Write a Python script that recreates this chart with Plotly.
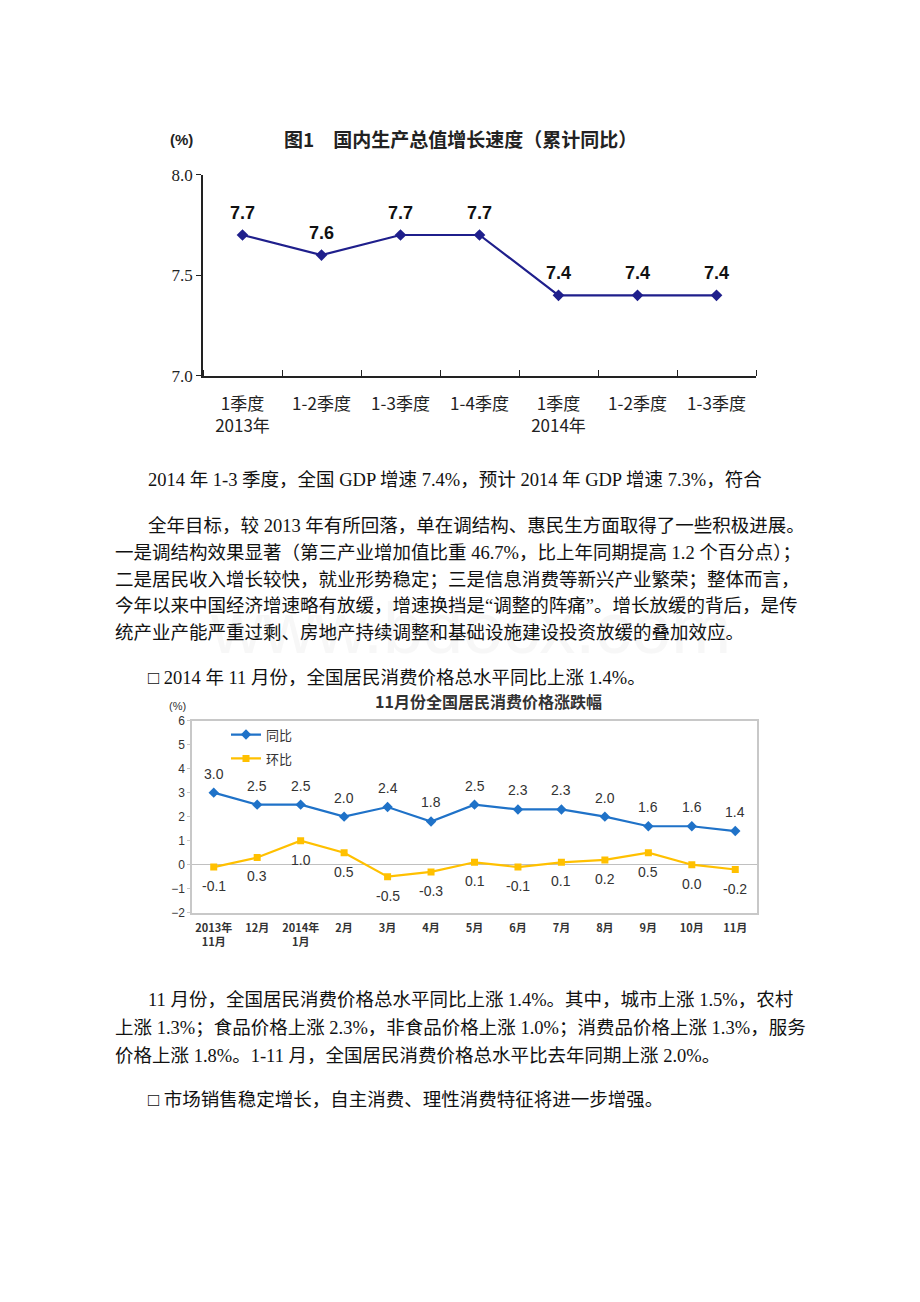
import plotly.graph_objects as go

W, H = 920, 1302
OFF = 8  # default page margin of the html body

# ---------------- data ----------------
gdp_labels = ["1季度<br>2013年", "1-2季度", "1-3季度", "1-4季度", "1季度<br>2014年", "1-2季度", "1-3季度"]
gdp_values = [7.7, 7.6, 7.7, 7.7, 7.4, 7.4, 7.4]
gdp_yticks = [7.0, 7.5, 8.0]

cpi_labels = ["2013年<br>11月", "12月", "2014年<br>1月", "2月", "3月", "4月", "5月",
              "6月", "7月", "8月", "9月", "10月", "11月"]
cpi_yoy = [3.0, 2.5, 2.5, 2.0, 2.4, 1.8, 2.5, 2.3, 2.3, 2.0, 1.6, 1.6, 1.4]
cpi_mom = [-0.1, 0.3, 1.0, 0.5, -0.5, -0.3, 0.1, -0.1, 0.1, 0.2, 0.5, 0.0, -0.2]
cpi_yticks = [-2, -1, 0, 1, 2, 3, 4, 5, 6]

text_lines = [
    ("2014 年 1-3 季度，全国 GDP 增速 7.4%，预计 2014 年 GDP 增速 7.3%，符合", 146, 478),
    ("全年目标，较 2013 年有所回落，单在调结构、惠民生方面取得了一些积极进展。", 146, 525),
    ("一是调结构效果显著（第三产业增加值比重 46.7%，比上年同期提高 1.2 个百分点）；", 113, 552),
    ("二是居民收入增长较快，就业形势稳定；三是信息消费等新兴产业繁荣；整体而言，", 113, 579),
    ("今年以来中国经济增速略有放缓，增速换挡是“调整的阵痛”。增长放缓的背后，是传", 113, 606),
    ("统产业产能严重过剩、房地产持续调整和基础设施建设投资放缓的叠加效应。", 113, 633),
    ("□ 2014 年 11 月份，全国居民消费价格总水平同比上涨 1.4%。", 146, 679),
    ("11 月份，全国居民消费价格总水平同比上涨 1.4%。其中，城市上涨 1.5%，农村", 146, 1006),
    ("上涨 1.3%；食品价格上涨 2.3%，非食品价格上涨 1.0%；消费品价格上涨 1.3%，服务", 113, 1034),
    ("价格上涨 1.8%。1-11 月，全国居民消费价格总水平比去年同期上涨 2.0%。", 113, 1062),
    ("□ 市场销售稳定增长，自主消费、理性消费特征将进一步增强。", 146, 1107),
]

CJK = "Noto Sans CJK SC"
SERIF_CJK = "Liberation Serif, Noto Sans CJK SC"
NAVY = "#1F1F8C"
BLUE = "#1F72C8"
YELLOW = "#FFC000"

def px_x(p):
    return (p - OFF) / W

def px_y(p):
    return 1 - (p - OFF) / H

# chart 2 plot area (pixels) and the paper position of its zero line
C2_TOP, C2_BOT = 722, 917
zero_frac = (0 - cpi_yticks[0]) / (cpi_yticks[-1] - cpi_yticks[0])
zero_pos = px_y(C2_BOT) + (px_y(C2_TOP) - px_y(C2_BOT)) * zero_frac

fig = go.Figure()

# ---------------- chart 1 ----------------
gx = list(range(len(gdp_values)))
fig.add_trace(go.Scatter(
    x=gx, y=gdp_values, mode="lines+markers", xaxis="x", yaxis="y",
    line=dict(color=NAVY, width=2.2),
    marker=dict(symbol="diamond", size=9, color=NAVY),
    showlegend=False, hoverinfo="skip"))

annotations = [
    dict(x=px_x(470), y=px_y(628), xref="paper", yref="paper",
         text="www.bdocx.com", showarrow=False, xanchor="center", yanchor="middle",
         font=dict(family="Arial, Liberation Sans", size=72, color="rgba(210,210,210,0.18)")),
]
for i, v in zip(gx, gdp_values):
    annotations.append(dict(x=i, y=v, xref="x", yref="y", text=f"{v:.1f}",
                            showarrow=False, yshift=22, xanchor="center", yanchor="middle",
                            font=dict(family="Arial, Liberation Sans", size=18,
                                      color="#111111", weight="bold")))

# ---------------- chart 2 ----------------
cx = list(range(len(cpi_yoy)))
fig.add_trace(go.Scatter(
    x=cx, y=cpi_yoy, mode="lines+markers", xaxis="x2", yaxis="y2", name="同比",
    legendgroup="a",
    line=dict(color=BLUE, width=2.2),
    marker=dict(symbol="diamond", size=8, color=BLUE), hoverinfo="skip"))
fig.add_trace(go.Scatter(
    x=cx, y=cpi_mom, mode="lines+markers", xaxis="x2", yaxis="y2", name="环比",
    legendgroup="b",
    line=dict(color=YELLOW, width=2.2),
    marker=dict(symbol="square", size=7, color=YELLOW), hoverinfo="skip"))

for i, v in zip(cx, cpi_yoy):
    annotations.append(dict(x=i, y=v, xref="x2", yref="y2", text=f"{v:.1f}",
                            showarrow=False, yshift=19, xanchor="center", yanchor="middle",
                            font=dict(family="Arial, Liberation Sans", size=14, color="#333333")))
for i, v in zip(cx, cpi_mom):
    annotations.append(dict(x=i, y=v, xref="x2", yref="y2", text=f"{v:.1f}",
                            showarrow=False, yshift=-19, xanchor="center", yanchor="middle",
                            font=dict(family="Arial, Liberation Sans", size=14, color="#333333")))

# ---------------- titles ----------------
annotations += [
    dict(x=px_x(181), y=px_y(132), xref="paper", yref="paper", text="(%)", showarrow=False,
         xanchor="center", yanchor="middle",
         font=dict(family="Arial, Liberation Sans", size=15, color="#222222", weight="bold")),
    dict(x=px_x(460), y=px_y(131), xref="paper", yref="paper",
         text="图1　国内生产总值增长速度（累计同比）", showarrow=False,
         xanchor="center", yanchor="middle",
         font=dict(family=CJK, size=19, color="#222222", weight="bold")),
    dict(x=px_x(177), y=px_y(707), xref="paper", yref="paper", text="(%)", showarrow=False,
         xanchor="center", yanchor="middle",
         font=dict(family="Arial, Liberation Sans", size=11, color="#333333")),
    dict(x=px_x(488), y=px_y(702), xref="paper", yref="paper",
         text="11月份全国居民消费价格涨跌幅", showarrow=False,
         xanchor="center", yanchor="middle",
         font=dict(family=CJK, size=16, color="#333333", weight="bold")),
]

for t, x0, y0 in text_lines:
    annotations.append(dict(x=px_x(x0), y=px_y(y0), xref="paper", yref="paper", text=t,
                            showarrow=False, xanchor="left", yanchor="middle",
                            font=dict(family=SERIF_CJK, size=18.5, color="#111111")))

fig.update_layout(
    width=W, height=H, margin=dict(l=0, r=0, t=0, b=0),
    paper_bgcolor="white", plot_bgcolor="white",
    annotations=annotations,
    xaxis=dict(domain=[px_x(203), px_x(756)], range=[-0.5, 6.5], anchor="y",
               showline=True, linecolor="#222222", linewidth=1.5, showgrid=False, zeroline=False,
               tickmode="array", tickvals=gx, ticktext=gdp_labels, ticks="",
               ticklabelstandoff=12,
               tickfont=dict(family=CJK, size=17, color="#222222"),
               minor=dict(tick0=0.5, dtick=1, ticks="inside", ticklen=6, tickcolor="#222222",
                          showgrid=False)),
    yaxis=dict(domain=[px_y(372), px_y(168)], range=[7.0, 8.0], anchor="x",
               showline=True, linecolor="#222222", linewidth=1.5, showgrid=False, zeroline=False,
               tickmode="array", tickvals=gdp_yticks, tickformat=".1f",
               ticks="outside", ticklen=5, tickcolor="#222222",
               tickfont=dict(family="Liberation Serif", size=17, color="#222222")),
    xaxis2=dict(domain=[px_x(192), px_x(757)], range=[-0.5, 12.5], anchor="y2",
                showline=True, mirror=True, linecolor="#C8C8C8", linewidth=1.5,
                showgrid=False, zeroline=False,
                tickmode="array", tickvals=cx, ticktext=cpi_labels, ticks="",
                ticklabelstandoff=4,
                tickfont=dict(family=CJK, size=11, color="#333333", weight="bold")),
    xaxis3=dict(domain=[px_x(192), px_x(757)], range=[-0.5, 12.5], overlaying="x2",
                anchor="free", position=zero_pos, side="bottom",
                showline=False, showgrid=False, zeroline=False, showticklabels=False,
                tickmode="array", tickvals=[x + 0.5 for x in cx[:-1]], ticks="inside",
                ticklen=4, tickcolor="#C0C0C0", tickwidth=1),
    yaxis2=dict(domain=[px_y(C2_BOT), px_y(C2_TOP)], range=[cpi_yticks[0], cpi_yticks[-1]],
                anchor="x2",
                showline=True, mirror=True, linecolor="#C8C8C8", linewidth=1.5,
                showgrid=False, zeroline=True, zerolinecolor="#C0C0C0", zerolinewidth=1.2,
                tickmode="array", tickvals=cpi_yticks, ticks="outside", ticklen=3,
                tickcolor="#C8C8C8",
                tickfont=dict(family="Arial, Liberation Sans", size=12, color="#333333")),
    legend=dict(x=px_x(226), y=px_y(721), xanchor="left", yanchor="top",
                bgcolor="rgba(0,0,0,0)", font=dict(family=CJK, size=13, color="#333333"),
                tracegroupgap=4, itemwidth=30),
)

fig.write_html("out.html")
